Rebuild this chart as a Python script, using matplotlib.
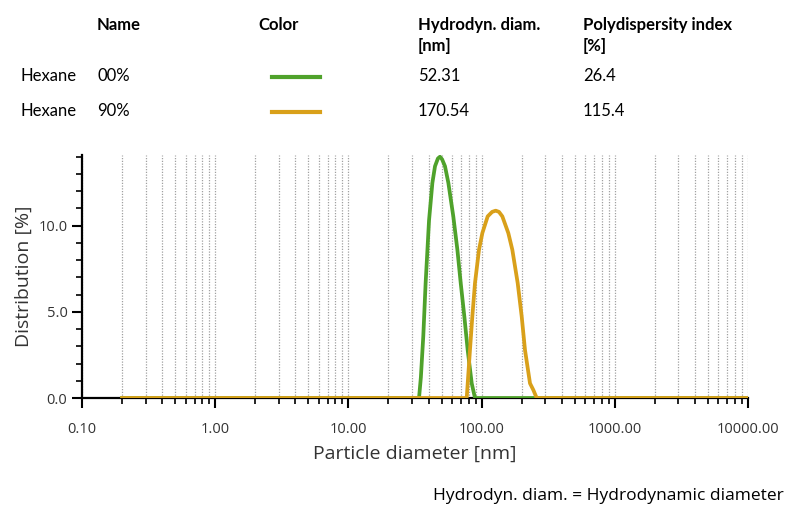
import matplotlib
matplotlib.use("Agg")
import matplotlib.pyplot as plt
from matplotlib.ticker import LogLocator, FixedLocator, FuncFormatter, MultipleLocator
from matplotlib.lines import Line2D

# curves (diameter in nm, distribution in %)
green_d = [0.2, 33.9, 35.0, 36.5, 38.0, 40.3, 42.7, 44.7, 47.0, 48.7, 50.5, 53.1, 56.3,
           61.3, 65.8, 69.7, 74.2, 78.6, 84.3, 89.2, 10000]
green_y = [0.0, 0.0, 1.2, 3.6, 6.67, 10.3, 12.48, 13.45, 13.9, 14.0, 13.85, 13.45, 12.48,
           10.54, 8.60, 6.67, 4.73, 2.79, 0.85, 0.0, 0.0]
orange_d = [0.2, 77.3, 81.8, 85.2, 89.2, 95.6, 101.3, 111.1, 120.0, 127.6, 135.0, 143.1,
            158.7, 170.1, 186.6, 200.0, 211.7, 230.9, 244.4, 259.2, 10000]
orange_y = [0.0, 0.0, 2.79, 4.73, 6.67, 8.60, 9.57, 10.54, 10.8, 10.87, 10.8, 10.54,
            9.57, 8.60, 6.67, 4.73, 2.79, 0.85, 0.47, 0.0, 0.0]

names = ["Hexane 00%", "Hexane 90%"]
colors = ["#4fa22b", "#d9a01a"]
hydro_diam = ["52.31", "170.54"]
pdi = ["26.4", "115.4"]

fig = plt.figure(figsize=(7.87, 5.09), dpi=100)
W, H = 787, 509

def fx(px):
    return px / W

def fy(py):
    return 1 - py / H

tfont = "Lato"
fs = 12
fig.text(fx(97), fy(25), "Name", fontsize=fs, fontweight="bold", family=tfont, va="center")
fig.text(fx(258), fy(25), "Color", fontsize=fs, fontweight="bold", family=tfont, va="center")
fig.text(fx(418), fy(25), "Hydrodyn. diam.", fontsize=fs, fontweight="bold", family=tfont, va="center")
fig.text(fx(418), fy(46), "[nm]", fontsize=fs, fontweight="bold", family=tfont, va="center")
fig.text(fx(583), fy(25), "Polydispersity index", fontsize=fs, fontweight="bold", family=tfont, va="center")
fig.text(fx(583), fy(46), "[%]", fontsize=fs, fontweight="bold", family=tfont, va="center")

rows_y = [76, 111]
for i in range(2):
    first, second = names[i].split()
    fig.text(fx(20), fy(rows_y[i]), first, fontsize=fs, family=tfont, va="center")
    fig.text(fx(97), fy(rows_y[i]), second, fontsize=fs, family=tfont, va="center")
    fig.add_artist(Line2D([fx(272), fx(320)], [fy(rows_y[i] + 1)] * 2,
                          color=colors[i], lw=3, transform=fig.transFigure))
    fig.text(fx(418), fy(rows_y[i]), hydro_diam[i], fontsize=fs, family=tfont, va="center")
    fig.text(fx(583), fy(rows_y[i]), pdi[i], fontsize=fs, family=tfont, va="center")

ax = fig.add_axes([82 / W, 1 - 398 / H, 666 / W, 243 / H])
ax.plot(green_d, green_y, color=colors[0], lw=2.7, solid_joinstyle="round", zorder=3)
ax.plot(orange_d, orange_y, color=colors[1], lw=2.7, solid_joinstyle="round", zorder=4)

ax.set_xscale("log")
ax.set_xlim(0.1, 10000)
ax.set_ylim(0, 14.1)

ax.xaxis.set_major_locator(FixedLocator([0.1, 1, 10, 100, 1000, 10000]))
ax.xaxis.set_major_formatter(FuncFormatter(lambda v, p: f"{v:.2f}"))
ax.xaxis.set_minor_locator(LogLocator(base=10, subs=range(2, 10), numticks=20))
ax.yaxis.set_major_locator(FixedLocator([0, 5, 10]))
ax.yaxis.set_major_formatter(FuncFormatter(lambda v, p: f"{v:.1f}"))
ax.yaxis.set_minor_locator(MultipleLocator(1))

ax.grid(True, which="both", axis="x", color="#a0a0a0", linestyle=(0, (1, 1.2)), lw=0.9)
ax.set_axisbelow(True)

for s in ["top", "right"]:
    ax.spines[s].set_visible(False)
for s in ["left", "bottom"]:
    ax.spines[s].set_linewidth(1.6)
    ax.spines[s].set_color("black")

ax.tick_params(which="major", direction="out", length=7, width=1.5, colors="black",
               labelcolor="#333333", labelsize=10.5)
ax.tick_params(which="minor", direction="out", length=4, width=1.2, colors="black")
ax.tick_params(axis="x", which="major", pad=10)
for lab in ax.get_xticklabels() + ax.get_yticklabels():
    lab.set_family("Open Sans")

ax.set_xlabel("Particle diameter [nm]", fontsize=14, family="Open Sans", color="#333333", labelpad=6)
ax.set_ylabel("Distribution [%]", fontsize=14, family="Open Sans", color="#333333", labelpad=4)

fig.text(fx(433), fy(496), "Hydrodyn. diam. = Hydrodynamic diameter", fontsize=12.5,
         family="Open Sans", va="center")

fig.savefig("out.png", dpi=100)
